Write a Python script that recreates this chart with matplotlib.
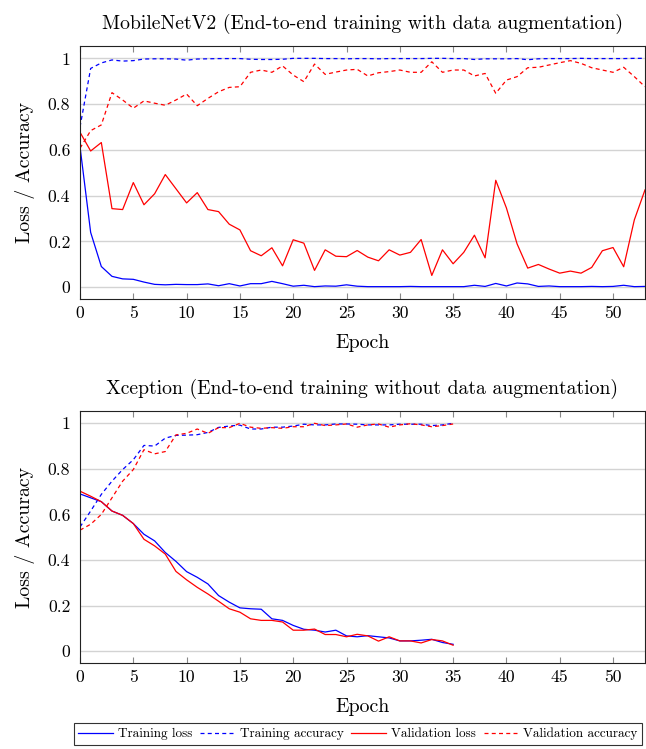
import matplotlib
matplotlib.use("Agg")
import matplotlib.pyplot as plt
from matplotlib.lines import Line2D

plt.rcParams['font.family'] = ['cmr10', 'DejaVu Serif']
plt.rcParams['mathtext.fontset'] = 'cm'
plt.rcParams['axes.formatter.use_mathtext'] = True

# ---------------- data ----------------
mb_train_loss = [0.614, 0.239, 0.090, 0.047, 0.036, 0.034, 0.022, 0.012, 0.010, 0.012,
                 0.011, 0.011, 0.014, 0.006, 0.015, 0.005, 0.015, 0.015, 0.025, 0.015,
                 0.004, 0.008, 0.002, 0.005, 0.004, 0.010, 0.004, 0.002, 0.002, 0.002,
                 0.002, 0.003, 0.002, 0.002, 0.002, 0.002, 0.002, 0.008, 0.003, 0.016,
                 0.005, 0.018, 0.014, 0.003, 0.005, 0.002, 0.002, 0.002, 0.003, 0.002,
                 0.003, 0.008, 0.002, 0.003]
mb_train_acc = [0.700, 0.956, 0.980, 0.993, 0.988, 0.990, 0.997, 0.998, 0.998, 0.997,
                0.992, 0.997, 0.998, 0.999, 0.999, 0.999, 0.996, 0.995, 0.995, 0.996,
                1.000, 1.000, 1.000, 0.999, 0.999, 0.998, 0.999, 0.999, 0.998, 0.999,
                0.999, 0.999, 0.999, 1.000, 1.000, 0.999, 0.999, 0.995, 0.998, 0.998,
                0.998, 0.999, 0.994, 0.998, 0.999, 0.999, 0.999, 1.000, 0.999, 0.999,
                0.999, 0.999, 1.000, 1.000]
mb_val_loss = [0.677, 0.595, 0.632, 0.343, 0.339, 0.457, 0.360, 0.408, 0.492, 0.430,
               0.368, 0.413, 0.339, 0.330, 0.275, 0.250, 0.159, 0.137, 0.172, 0.093,
               0.207, 0.192, 0.073, 0.163, 0.135, 0.133, 0.160, 0.131, 0.115, 0.163,
               0.140, 0.152, 0.208, 0.051, 0.163, 0.102, 0.152, 0.227, 0.128, 0.467,
               0.346, 0.189, 0.083, 0.099, 0.079, 0.061, 0.070, 0.061, 0.086, 0.159,
               0.173, 0.089, 0.294, 0.425]
mb_val_acc = [0.607, 0.684, 0.709, 0.850, 0.818, 0.782, 0.814, 0.804, 0.795, 0.818,
              0.844, 0.793, 0.825, 0.854, 0.873, 0.876, 0.939, 0.949, 0.939, 0.967,
              0.927, 0.898, 0.975, 0.930, 0.940, 0.949, 0.952, 0.923, 0.937, 0.942,
              0.949, 0.939, 0.939, 0.985, 0.939, 0.949, 0.949, 0.923, 0.934, 0.847,
              0.905, 0.920, 0.959, 0.961, 0.971, 0.981, 0.990, 0.978, 0.959, 0.949,
              0.939, 0.961, 0.920, 0.876]

xc_train_loss = [0.690, 0.673, 0.656, 0.615, 0.596, 0.560, 0.513, 0.484, 0.433, 0.394,
                 0.349, 0.324, 0.295, 0.244, 0.215, 0.190, 0.186, 0.184, 0.142, 0.135,
                 0.113, 0.096, 0.092, 0.084, 0.092, 0.067, 0.063, 0.068, 0.063, 0.058,
                 0.045, 0.045, 0.048, 0.052, 0.038, 0.030]
xc_train_acc = [0.545, 0.615, 0.688, 0.746, 0.797, 0.840, 0.903, 0.900, 0.935, 0.947,
                0.948, 0.950, 0.960, 0.982, 0.988, 0.992, 0.975, 0.975, 0.983, 0.983,
                0.988, 0.996, 0.993, 0.993, 0.997, 0.997, 0.996, 0.993, 0.993, 0.993,
                0.996, 0.996, 0.996, 0.990, 0.993, 1.000]
xc_val_loss = [0.702, 0.680, 0.656, 0.615, 0.596, 0.560, 0.491, 0.462, 0.426, 0.350,
               0.313, 0.280, 0.251, 0.219, 0.186, 0.171, 0.142, 0.135, 0.135, 0.128,
               0.092, 0.092, 0.097, 0.073, 0.073, 0.063, 0.074, 0.067, 0.044, 0.063,
               0.045, 0.045, 0.036, 0.051, 0.045, 0.026]
xc_val_acc = [0.531, 0.557, 0.600, 0.673, 0.746, 0.797, 0.884, 0.866, 0.876, 0.949,
              0.956, 0.975, 0.956, 0.981, 0.981, 1.000, 0.983, 0.978, 0.981, 0.978,
              0.985, 0.985, 1.000, 0.990, 0.993, 0.997, 0.983, 0.993, 0.997, 0.983,
              0.993, 0.998, 0.993, 0.985, 0.990, 0.997]

titles = ["MobileNetV2 (End-to-end training with data augmentation)",
          "Xception (End-to-end training without data augmentation)"]
legend_labels = ["Training loss", "Training accuracy", "Validation loss", "Validation accuracy"]
xticks = [0, 5, 10, 15, 20, 25, 30, 35, 40, 45, 50]
yticks = [0, 0.2, 0.4, 0.6, 0.8, 1]
ytick_labels = ["0", "0.2", "0.4", "0.6", "0.8", "1"]

# ---------------- figure ----------------
W, H = 646, 749
fig = plt.figure(figsize=(W / 100, H / 100), dpi=100)

def px_axes(left, top, right, bottom):
    return fig.add_axes([left / W, 1 - bottom / H, (right - left) / W, (bottom - top) / H])

ax1 = px_axes(80, 46, 645, 299)
ax2 = px_axes(80, 411, 645, 663)

BLUE = (0, 0, 1)
RED = (1, 0, 0)
dash = (0, (3.2, 2.6))
lw = 0.9

def style(ax, title):
    ax.set_xlim(0, 53)
    ax.set_ylim(-0.052, 1.054)
    ax.set_xticks(xticks)
    ax.set_xticklabels([str(t) for t in xticks])
    ax.set_yticks(yticks)
    ax.set_yticklabels(ytick_labels)
    ax.grid(axis='y', color='#d3d3d3', linewidth=1.0)
    ax.set_axisbelow(True)
    ax.tick_params(axis='x', direction='in', top=True, length=4, color='#888888',
                   labelsize=12.7, pad=5)
    ax.tick_params(axis='y', length=0, labelsize=12.7, pad=7)
    for s in ax.spines.values():
        s.set_linewidth(0.8)
        s.set_color('#222222')
    ax.set_xlabel("Epoch", fontsize=14.3, labelpad=9)
    ax.set_ylabel("Loss / Accuracy", fontsize=14.3, labelpad=9)
    ax.set_title(title, fontsize=14.2, pad=12)

def plot_set(ax, tl, ta, vl, va):
    ep = list(range(len(tl)))
    ax.plot(ep, tl, color=BLUE, lw=lw)
    ax.plot(ep, ta, color=BLUE, lw=lw, linestyle=dash)
    ax.plot(ep, vl, color=RED, lw=lw)
    ax.plot(ep, va, color=RED, lw=lw, linestyle=dash)

plot_set(ax1, mb_train_loss, mb_train_acc, mb_val_loss, mb_val_acc)
plot_set(ax2, xc_train_loss, xc_train_acc, xc_val_loss, xc_val_acc)
style(ax1, titles[0])
style(ax2, titles[1])

handles = [Line2D([], [], color=BLUE, lw=lw),
           Line2D([], [], color=BLUE, lw=lw, linestyle=dash),
           Line2D([], [], color=RED, lw=lw),
           Line2D([], [], color=RED, lw=lw, linestyle=dash)]
leg = fig.legend(handles, legend_labels, loc='center', bbox_to_anchor=(358 / W, 1 - 734 / H),
                 ncol=4, fontsize=9.5, frameon=True, fancybox=False, handlelength=2.6,
                 handletextpad=0.4, columnspacing=0.6, borderpad=0.35, borderaxespad=0)
leg.get_frame().set_edgecolor('black')
leg.get_frame().set_linewidth(0.8)

fig.savefig("out.png", dpi=100)
